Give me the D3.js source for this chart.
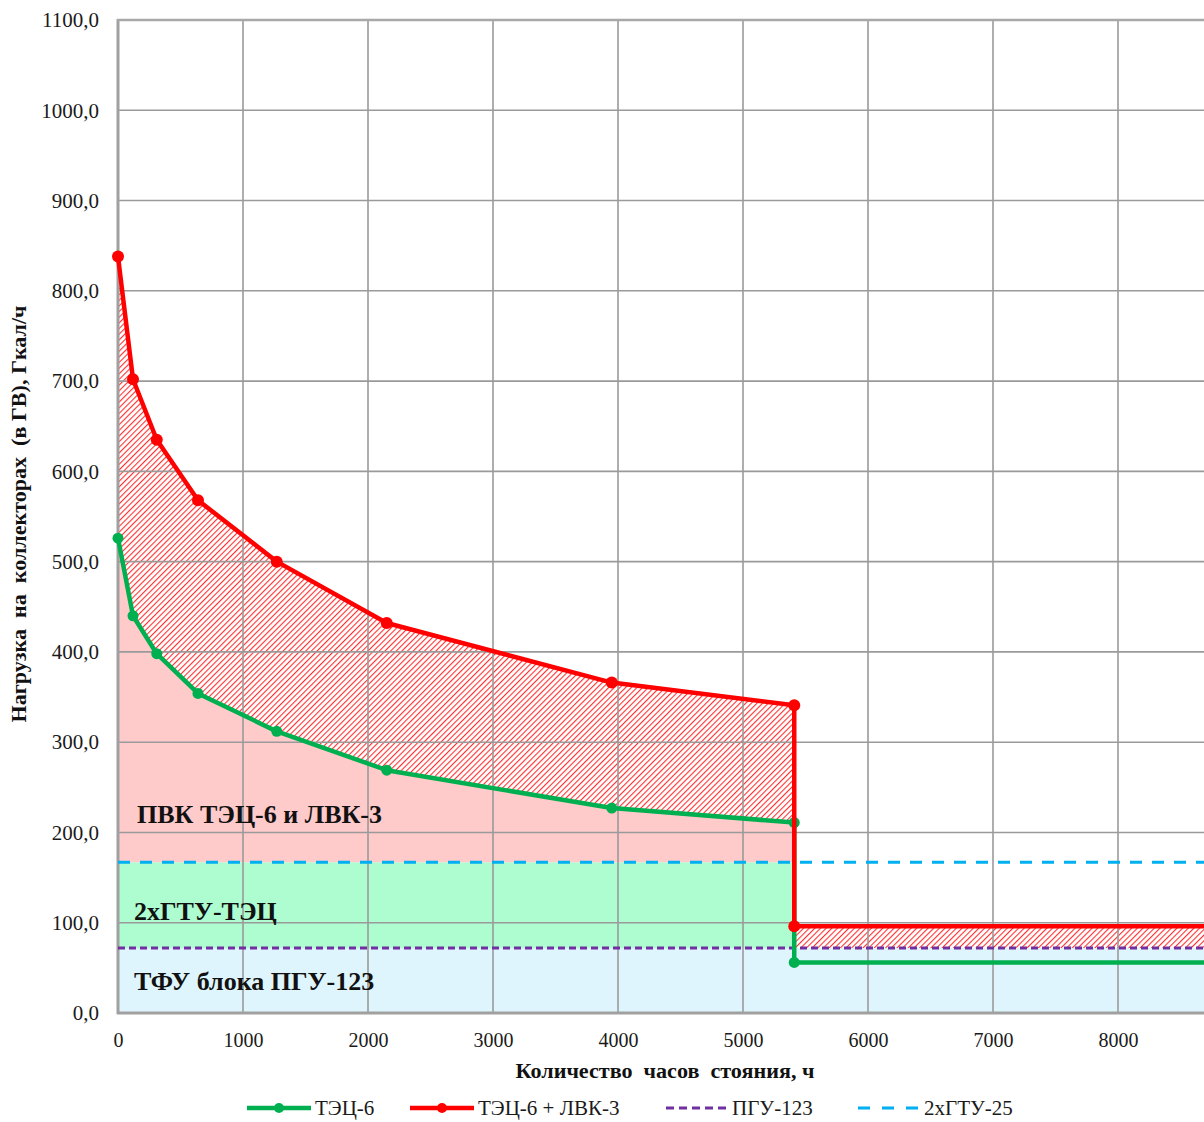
<!DOCTYPE html>
<html><head><meta charset="utf-8">
<script src="https://cdn.jsdelivr.net/npm/d3@7"></script>
<style>body{margin:0;background:#fff}svg{display:block}svg text{font-family:"Liberation Serif","Times New Roman",serif}</style>
</head><body><svg id="c" width="1204" height="1122"></svg>
<script>
const hours   = [0, 120, 310, 640, 1270, 2150, 3950, 5410, 5410, 8760];
const tec6    = [526, 440, 398, 354, 312, 269, 227, 211, 56, 56];
const tec6lvk = [838, 702, 635, 568, 500, 432, 366, 341, 96, 96];
const pgu123Level = 72;
const gtu25Level = 167;
const stepIndex = 7; // last point before the step
const xTicks = [0,1000,2000,3000,4000,5000,6000,7000,8000];
const xGrid = [1000,2000,3000,4000,5000,6000,7000,8000,9000];
const yTicks = [0,100,200,300,400,500,600,700,800,900,1000,1100];
const zoneLabels = [
  {text:"ПВК ТЭЦ-6 и ЛВК-3", x:137, y:210},
  {text:"2хГТУ-ТЭЦ", x:134, y:103},
  {text:"ТФУ блока ПГУ-123", x:134, y:25}
];
const legendItems = [
  {name:"ТЭЦ-6", color:"#00b050", type:"marker"},
  {name:"ТЭЦ-6 + ЛВК-3", color:"#ff0000", type:"marker"},
  {name:"ПГУ-123", color:"#7030a0", type:"dash1"},
  {name:"2хГТУ-25", color:"#00b0f0", type:"dash2"}
];

const svg = d3.select("#c");
const x = d3.scaleLinear().domain([0,9000]).range([118,1243]);
const y = d3.scaleLinear().domain([0,1100]).range([1013,20]);

const defs = svg.append("defs");
const pat = defs.append("pattern").attr("id","hatch").attr("patternUnits","userSpaceOnUse")
  .attr("width",4).attr("height",4).attr("patternTransform","rotate(45)");
pat.append("rect").attr("width",4).attr("height",4).attr("fill","#ffffff");
pat.append("line").attr("x1",0).attr("y1",0).attr("x2",0).attr("y2",4).attr("stroke","#ff3030").attr("stroke-width",2.2);

const pts = hours.map((h,i)=>({h, g:tec6[i], r:tec6lvk[i]}));
const first = pts.slice(0, stepIndex+1);
const second = pts.slice(stepIndex+1);

// background zones
const xEnd = hours[hours.length-1];
svg.append("path").datum([{h:0},{h:xEnd}])
  .attr("d", d3.area().x(d=>x(d.h)).y0(y(0)).y1(y(pgu123Level))).attr("fill","#dff5fd");
svg.append("path").datum([{h:0},{h:hours[stepIndex]}])
  .attr("d", d3.area().x(d=>x(d.h)).y0(y(pgu123Level)).y1(y(gtu25Level))).attr("fill","#adfdd0");
svg.append("path").datum(first)
  .attr("d", d3.area().x(d=>x(d.h)).y0(y(gtu25Level)).y1(d=>y(d.g))).attr("fill","#ffcaca");
svg.append("path").datum(first)
  .attr("d", d3.area().x(d=>x(d.h)).y0(d=>y(d.g)).y1(d=>y(d.r))).attr("fill","url(#hatch)");
svg.append("path").datum(second)
  .attr("d", d3.area().x(d=>x(d.h)).y0(y(pgu123Level)).y1(d=>y(d.r))).attr("fill","url(#hatch)");

// grid
const grid = svg.append("g").attr("stroke","#9a9a9a").attr("stroke-width",1.6);
grid.selectAll("line.v").data(xGrid).join("line")
  .attr("x1",d=>x(d)).attr("x2",d=>x(d)).attr("y1",y(0)).attr("y2",y(1100));
grid.selectAll("line.h").data(yTicks.slice(1)).join("line")
  .attr("x1",x(0)).attr("x2",1243).attr("y1",d=>y(d)).attr("y2",d=>y(d));
// frame
svg.append("line").attr("x1",x(0)).attr("x2",x(0)).attr("y1",y(0)+1).attr("y2",y(1100)-1).attr("stroke","#a0a0a0").attr("stroke-width",3);
svg.append("line").attr("x1",x(0)-1).attr("x2",1243).attr("y1",y(0)).attr("y2",y(0)).attr("stroke","#a0a0a0").attr("stroke-width",3);
svg.append("line").attr("x1",x(0)-1).attr("x2",1243).attr("y1",y(1100)).attr("y2",y(1100)).attr("stroke","#a8a8a8").attr("stroke-width",2.5);

// zone labels
svg.append("g").selectAll("text").data(zoneLabels).join("text")
  .attr("x",d=>d.x).attr("y",d=>y(d.y)).attr("font-size",26).attr("font-weight","bold").attr("fill","#111")
  .text(d=>d.text);

// dashed level lines
svg.append("line").attr("x1",x(0)).attr("x2",1243).attr("y1",y(pgu123Level)).attr("y2",y(pgu123Level))
  .attr("stroke","#7030a0").attr("stroke-width",3).attr("stroke-dasharray","7,4");
svg.append("line").attr("x1",x(0)).attr("x2",1243).attr("y1",y(gtu25Level)).attr("y2",y(gtu25Level))
  .attr("stroke","#00b0f0").attr("stroke-width",3).attr("stroke-dasharray","12,10");

// series lines
const lineG = d3.line().x(d=>x(d.h)).y(d=>y(d.g));
const lineR = d3.line().x(d=>x(d.h)).y(d=>y(d.r));
svg.append("path").datum(pts).attr("d",lineG).attr("fill","none").attr("stroke","#00b050").attr("stroke-width",4.5).attr("stroke-linejoin","round");
svg.selectAll("circle.g").data(pts).join("circle").attr("cx",d=>x(d.h)).attr("cy",d=>y(d.g)).attr("r",5.5).attr("fill","#00b050");
svg.append("path").datum(pts).attr("d",lineR).attr("fill","none").attr("stroke","#ff0000").attr("stroke-width",4.5).attr("stroke-linejoin","round");
svg.selectAll("circle.r").data(pts).join("circle").attr("cx",d=>x(d.h)).attr("cy",d=>y(d.r)).attr("r",6).attr("fill","#ff0000");

// axes
const fmt = d => d3.format(".1f")(d).replace(".",",");
const ya = svg.append("g").attr("transform",`translate(${x(0)-19},0)`)
  .call(d3.axisLeft(y).tickValues(yTicks).tickFormat(fmt).tickSize(0).tickPadding(0));
ya.attr("font-family",null).attr("font-size",null);
ya.select(".domain").remove();
ya.selectAll("text").attr("font-size",21).attr("fill","#1a1a1a").attr("dy","0.32em");
const xa = svg.append("g").attr("transform",`translate(0,${y(0)+18})`)
  .call(d3.axisBottom(x).tickValues(xTicks).tickFormat(d3.format("d")).tickSize(0).tickPadding(0));
xa.attr("font-family",null).attr("font-size",null);
xa.select(".domain").remove();
xa.selectAll("text").attr("font-size",20).attr("fill","#1a1a1a").attr("dy","0.8em");

svg.append("text").attr("transform",`translate(26,${514}) rotate(-90)`)
  .attr("text-anchor","middle").attr("font-size",20).attr("font-weight","bold").attr("fill","#111")
  .style("white-space","pre").attr("textLength",417).attr("lengthAdjust","spacingAndGlyphs")
  .text("Нагрузка  на  коллекторах  (в ГВ), Гкал/ч");
svg.append("text").attr("x",665).attr("y",1078).attr("text-anchor","middle").attr("font-size",20).attr("font-weight","bold").attr("fill","#111")
  .style("white-space","pre").attr("textLength",299).attr("lengthAdjust","spacingAndGlyphs")
  .text("Количество  часов  стояния, ч");

// legend
const legX = [247, 410, 666, 858];
const lg = svg.append("g");
legendItems.forEach((it,i)=>{
  const g = lg.append("g").attr("transform",`translate(${legX[i]},1108)`);
  if(it.type==="marker"){
    g.append("line").attr("x1",0).attr("x2",64).attr("stroke",it.color).attr("stroke-width",4.5);
    g.append("circle").attr("cx",32).attr("r",5).attr("fill",it.color);
  } else {
    g.append("line").attr("x1",0).attr("x2",62).attr("stroke",it.color).attr("stroke-width",3)
      .attr("stroke-dasharray", it.type==="dash1" ? "8,5" : "12,12");
  }
  g.append("text").attr("x", it.type==="marker"?68:66).attr("dy","0.35em").attr("font-size",21).attr("fill","#1a1a1a").text(it.name);
});
</script></body></html>
